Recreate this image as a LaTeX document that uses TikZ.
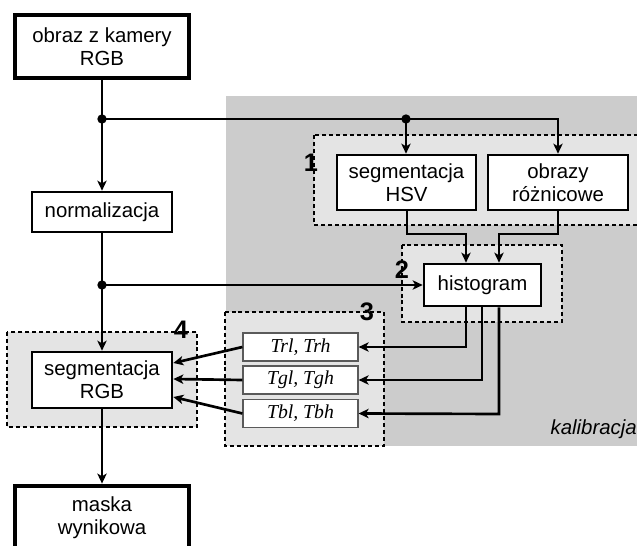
\documentclass[tikz,border=0pt]{standalone}
\usepackage{fontspec}
\setmainfont{Liberation Sans}
\newfontfamily\tnr{Liberation Serif}
\usetikzlibrary{arrows.meta}
\definecolor{bigfill}{HTML}{CCCCCC}
\definecolor{boxfill}{HTML}{E4E4E4}
\definecolor{tborder}{HTML}{5A5A5A}
\tikzset{
  blk/.style={draw, line width=2pt, fill=white, inner sep=0pt, align=center,
    font=\fontsize{15.3}{17.3}\selectfont},
  thick blk/.style={blk, line width=3.6pt},
  tbox/.style={draw=tborder, line width=0.9pt, fill=white, inner sep=0pt,
    minimum width={115*0.75pt}, minimum height={28*0.75pt},
    font=\tnr\itshape\fontsize{14.8}{16}\selectfont},
  grp/.style={draw, fill=boxfill, line width=1.4pt, dash pattern=on 3pt off 2.2pt},
  conn/.style={line width=2pt},
  arr/.style={conn, -{Stealth[length=7.5pt,width=7pt,inset=2pt]}},
  junct/.style={circle, fill=black, inner sep=0pt, minimum size=7pt},
  num/.style={font=\bfseries\fontsize{19}{19}\selectfont, inner sep=0pt},
}
\begin{document}
\begin{tikzpicture}[x=0.75pt,y=-0.75pt]
\useasboundingbox (0,0) rectangle (637,546);
\clip (0,0) rectangle (637,546);
% background regions
\fill[bigfill] (226,96) rectangle (645,446);
\draw[grp] (314,135) rectangle (660,225);
\draw[grp] (402,245) rectangle (562,322);
\draw[grp] (225,312) rectangle (384,446);
\draw[grp] (7,332) rectangle (197,427);
% nodes
\node[thick blk, minimum width={174*0.75pt}, minimum height={63*0.75pt}] (cam) at (102,46.5) {obraz z kamery\\RGB};
\node[blk, minimum width={140*0.75pt}, minimum height={40*0.75pt}] (norm) at (102,212) {normalizacja};
\node[blk, minimum width={139*0.75pt}, minimum height={55*0.75pt}] (hsv) at (406.5,182.5) {segmentacja\\HSV};
\node[blk, minimum width={140*0.75pt}, minimum height={55*0.75pt}] (obr) at (558,182.5) {obrazy\\różnicowe};
\node[blk, minimum width={117*0.75pt}, minimum height={42*0.75pt}] (hist) at (482.5,285) {histogram};
\node[blk, minimum width={140*0.75pt}, minimum height={56*0.75pt}] (rgb) at (102,380) {segmentacja\\RGB};
\node[thick blk, minimum width={174*0.75pt}, minimum height={64*0.75pt}] (mask) at (102,518) {maska\\wynikowa};
\node[tbox] (tr) at (300.5,347) {Trl, Trh};
\node[tbox] (tg) at (300.5,380) {Tgl, Tgh};
\node[tbox] (tb) at (300.5,413.5) {Tbl, Tbh};
% labels
\node[num] (l1) at (311,163) {1};
\node[num] (l2) at (402,270) {2};
\node[num] (l3) at (367,312) {3};
\node[num] (l4) at (181,330) {4};
\node[anchor=base east, inner sep=0pt, font=\itshape\fontsize{15.3}{17}\selectfont] (kal) at (637,434) {kalibracja};
% junctions
\node[junct] (j1) at (102,119) {};
\node[junct] (j2) at (406,119) {};
\node[junct] (j3) at (102,285) {};
\coordinate (c1) at (558,119);
\coordinate (h1) at (407,234);
\coordinate (h2) at (466,234);
\coordinate (o1) at (558,234);
\coordinate (o2) at (499,234);
\coordinate (b1) at (466,347);
\coordinate (b2) at (482,380);
\coordinate (b3) at (499,414);
% connectors
\draw[arr] (cam.south) -- (norm.north);
\draw[conn] (j1.center) -- (j2.center);
\draw[arr] (j2.center) -- (hsv.north -| j2);
\draw[arr] (j2.center) -- (c1) -- (obr.north);
\draw[arr] (norm.south) -- (rgb.north);
\draw[arr] (j3.center) -- (hist.west);
\draw[arr] (hsv.south -| h1) -- (h1) -- (h2) -- (hist.north -| h2);
\draw[arr] (obr.south) -- (o1) -- (o2) -- (hist.north -| o2);
\draw[arr] (hist.south -| b1) -- (b1) -- (tr.east);
\draw[arr] (hist.south -| b2) -- (b2) -- (tg.east);
\draw[arr] (hist.south -| b3) -- (b3) -- (tb.east);
\draw[arr] (tr.west) -- (rgb.east |- 0,363);
\draw[arr] (tg.west) -- (rgb.east |- 0,379);
\draw[arr] (tb.west) -- (rgb.east |- 0,397);
\draw[arr] (rgb.south) -- (mask.north);
\end{tikzpicture}
\end{document}
